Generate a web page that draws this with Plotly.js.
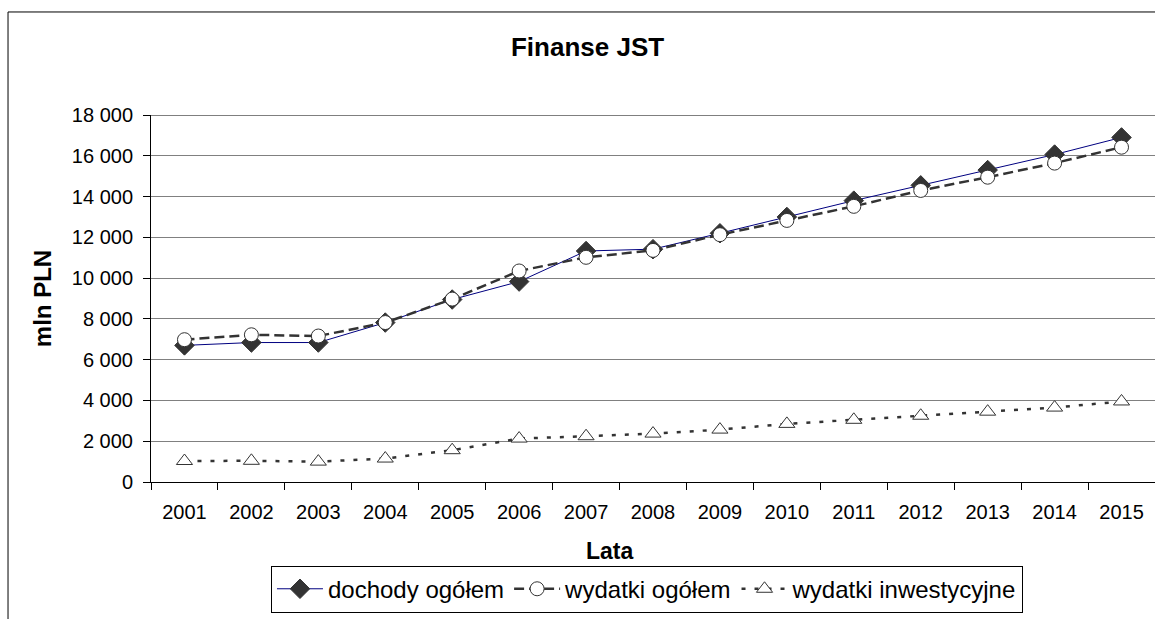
<!DOCTYPE html>
<html>
<head>
<meta charset="utf-8">
<script src="https://cdn.plot.ly/plotly-3.0.1.min.js"></script>
<style>html,body{margin:0;padding:0;background:#fff;overflow:hidden;}#chart{width:1155px;height:619px;}</style>
</head>
<body>
<div id="chart"></div>
<script>
const years = ["2001","2002","2003","2004","2005","2006","2007","2008","2009","2010","2011","2012","2013","2014","2015"];
const dochodyOgolem = [6700, 6840, 6840, 7820, 8950, 9830, 11330, 11420, 12200, 13000, 13800, 14550, 15300, 16060, 16900];
const wydatkiOgolem = [6980, 7220, 7160, 7820, 8970, 10350, 11020, 11360, 12130, 12830, 13520, 14300, 14950, 15640, 16420];
const wydatkiInwestycyjne = [1030, 1040, 1000, 1150, 1560, 2130, 2245, 2375, 2570, 2850, 3050, 3250, 3450, 3650, 3950];
const yTickVals = [0, 2000, 4000, 6000, 8000, 10000, 12000, 14000, 16000, 18000];
const yTickText = ["0", "2 000", "4 000", "6 000", "8 000", "10 000", "12 000", "14 000", "16 000", "18 000"];

const FONT = "Liberation Sans, Arial, sans-serif";

const traces = [
  {
    x: years, y: dochodyOgolem, name: "dochody ogółem", type: "scatter", mode: "lines+markers",
    line: {color: "#000080", width: 1},
    marker: {symbol: "diamond", size: 15, color: "#333333", line: {color: "#333333", width: 1}}
  },
  {
    x: years, y: wydatkiOgolem, name: "wydatki ogółem", type: "scatter", mode: "lines+markers",
    line: {color: "#333333", width: 2.5, dash: "10px,5px"},
    marker: {symbol: "circle", size: 14, color: "#ffffff", line: {color: "#333333", width: 1}}
  },
  {
    x: years, y: wydatkiInwestycyjne, name: "wydatki inwestycyjne", type: "scatter", mode: "lines+markers",
    line: {color: "#333333", width: 2.5, dash: "4px,9px"},
    marker: {symbol: "triangle-up", size: 14, color: "#ffffff", line: {color: "#333333", width: 1}}
  }
];

const layout = {
  width: 1155, height: 619,
  margin: {l: 151, r: 0, t: 115, b: 137, pad: 0},
  paper_bgcolor: "#ffffff", plot_bgcolor: "#ffffff",
  font: {family: FONT, size: 20, color: "#000000"},
  title: {text: "<b>Finanse JST</b>", font: {family: FONT, size: 26, color: "#000"},
          xref: "container", x: 0.5087, xanchor: "center", yref: "container", y: 0.924, yanchor: "middle"},
  showlegend: true,
  legend: {orientation: "h", x: 0.494, xanchor: "center", y: -0.228, yanchor: "top",
           bordercolor: "#000000", borderwidth: 1, font: {family: FONT, size: 24, color: "#000"},
           itemwidth: 46, traceorder: "normal", bgcolor: "#ffffff"},
  xaxis: {
    type: "category", tickson: "boundaries", ticks: "outside", ticklen: 7, tickcolor: "#000", tickwidth: 1,
    showline: true, linecolor: "#000", linewidth: 1, showgrid: false, zeroline: false,
    tickfont: {family: FONT, size: 20, color: "#000"}, ticklabelstandoff: 12,
    range: [-0.5, 14.5], fixedrange: true
  },
  yaxis: {
    range: [0, 18000], tickvals: yTickVals, ticktext: yTickText, ticks: "outside", ticklen: 7,
    tickcolor: "#000", tickwidth: 1, showline: true, linecolor: "#000", linewidth: 1,
    showgrid: true, gridcolor: "#808080", gridwidth: 1, zeroline: false,
    tickfont: {family: FONT, size: 20, color: "#000"}, ticklabelstandoff: 6,
    title: {text: "<b>mln PLN</b>", font: {family: FONT, size: 24, color: "#000"}, standoff: 13},
    fixedrange: true
  },
  annotations: [
    {text: "<b>Lata</b>", xref: "paper", yref: "paper", x: 0.457, y: -0.188, xanchor: "center", yanchor: "middle",
     showarrow: false, font: {family: FONT, size: 23, color: "#000"}}
  ],
  shapes: [
    {type: "line", xref: "paper", yref: "y", x0: 0, x1: 1, y0: 18000, y1: 18000,
     line: {color: "#000000", width: 1}},
    {type: "line", xref: "paper", yref: "paper", x0: -0.1424, x1: -0.1424, y0: -0.45, y1: 1.2807,
     line: {color: "#000000", width: 1}},
    {type: "line", xref: "paper", yref: "paper", x0: -0.1424, x1: 1.0, y0: 1.2807, y1: 1.2807,
     line: {color: "#000000", width: 1}}
  ]
};

Plotly.newPlot("chart", traces, layout, {displayModeBar: false, staticPlot: true});
</script>
</body>
</html>
